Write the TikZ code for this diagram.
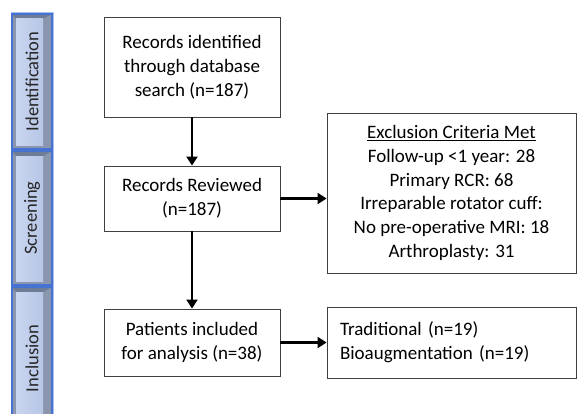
\documentclass[tikz,border=0pt]{standalone}
\usepackage{fontspec}
\setmainfont{Carlito}
\usetikzlibrary{arrows.meta,positioning}

\definecolor{tabface}{HTML}{C9D6F0}
\definecolor{tabfacedark}{HTML}{B7C6E6}
\definecolor{tabbevel}{HTML}{8A96AE}
\definecolor{tabtop}{HTML}{6F7C96}
\definecolor{tabline}{HTML}{4673D2}
\definecolor{tabglow}{HTML}{A9BFEE}

\begin{document}
\begin{tikzpicture}[
		x=1pt, y=1pt,
		>={Triangle[length=9pt,width=11pt]},
		box/.style={draw=black!75, line width=0.9pt, align=center, inner sep=4pt,
			font=\fontsize{19}{23.8}\selectfont},
		flow/.style={->, line width=2.8pt},
		tablabel/.style={rotate=90, text=black!85, font=\fontsize{18.5}{20}\selectfont}
		]
		
		\useasboundingbox (0,0) rectangle (577,413);
		\clip (0,0) rectangle (577,413);
		
		% --------------------------------------------------
		% Stage tabs on the left
		% --------------------------------------------------
		\foreach \name/\top/\bot/\stage in {ident/14/149/Identification,
			screen/151/285/Screening, incl/287/430/Inclusion} {
			\draw[tabglow, line width=3pt] (12,{413-\top}) rectangle (52,{413-\bot});
			\fill[tabbevel] (12,{413-\top}) rectangle (52,{413-\bot});
			\fill[tabtop] (12,{413-\top}) -- (52,{413-\top}) -- (43,{413-\top-5}) -- (16,{413-\top-5}) -- cycle;
			\fill[left color=tabface, right color=tabfacedark] (16,{413-\top-5}) rectangle (43,{413-\bot+4});
			\draw[tabline, line width=1.4pt] (12,{413-\top}) rectangle (52,{413-\bot});
			\node[tablabel] (\name) at (32,{413-(\top+\bot)/2}) {\stage};
		}
		
		% --------------------------------------------------
		% Main flow boxes
		% --------------------------------------------------
		\node[box, minimum width=176pt, minimum height=100pt] (records) at (192,346) {%
			Records identified\\through database\\search (n=187)};
		
		\node[box, minimum width=176pt, minimum height=65pt] (reviewed) at (192,214.5) {%
			Records Reviewed\\(n=187)};
		
		\node[box, minimum width=176pt, minimum height=67pt] (included) at (192,70.5) {%
			Patients included\\for analysis (n=38)};
		
		% --------------------------------------------------
		% Right side boxes
		% --------------------------------------------------
		\node[box, minimum width=249pt, minimum height=160pt] (exclusion) at (451.5,220) {%
			\underline{Exclusion Criteria Met}\\
			Follow-up <1 year: 28\\
			Primary RCR: 68\\
			Irreparable rotator cuff:\\
			No pre-operative MRI: 18\\
			Arthroplasty: 31};
		
		\node[box, align=left, text width=223pt, inner xsep=13pt, minimum height=71pt] (groups) at (451.5,70.5) {%
			Traditional (n=19)\\
			Bioaugmentation (n=19)};
		
		% --------------------------------------------------
		% Connecting arrows
		% --------------------------------------------------
		\draw[flow] (records.south) -- (reviewed.north);
		\draw[flow] (reviewed.south) -- (included.north);
		\draw[flow] (reviewed.east) -- (reviewed.east -| exclusion.west);
		\draw[flow] (included.east) -- (included.east -| groups.west);
		
	\end{tikzpicture}
\end{document}
